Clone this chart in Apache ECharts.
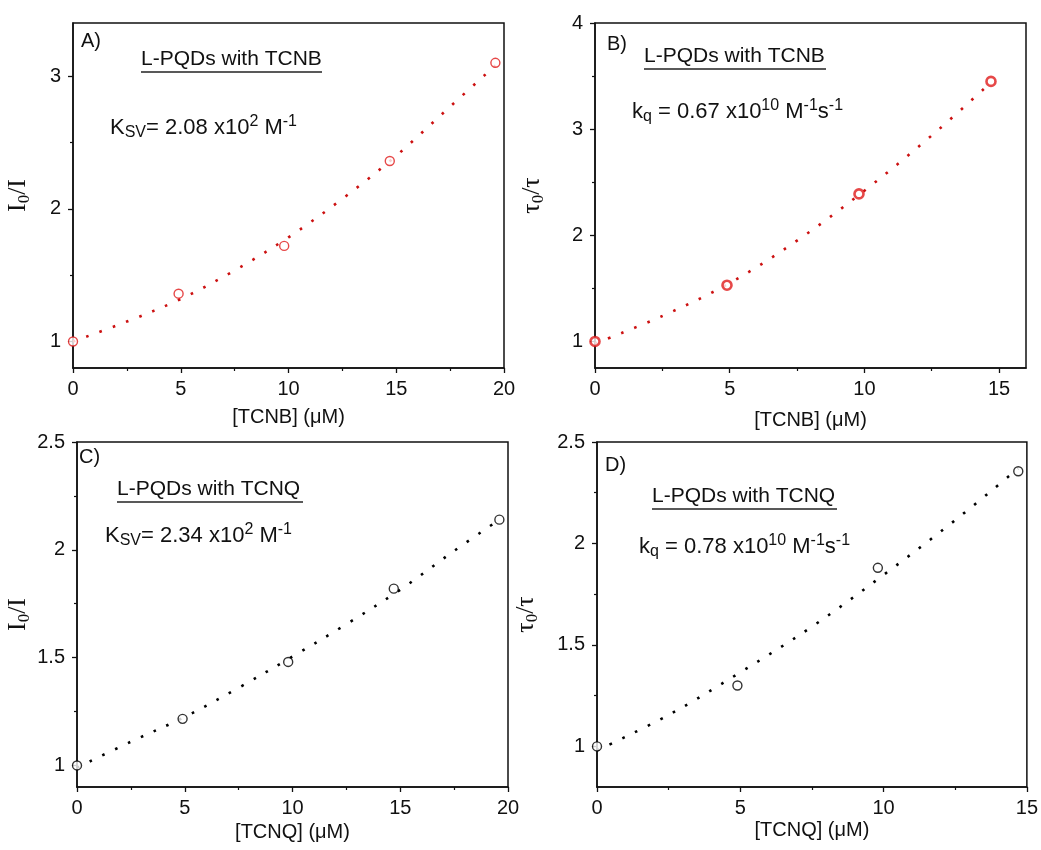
<!DOCTYPE html>
<html>
<head>
<meta charset="utf-8">
<script src="https://cdn.jsdelivr.net/npm/echarts@6/dist/echarts.min.js"></script>
<style>
html,body{margin:0;padding:0;background:#fff;}
#chart{width:1041px;height:850px;}
</style>
</head>
<body>
<div id="chart"></div>
<script>
// ---------- data ----------
// Panel A: I0/I vs [TCNB]
const xA = [0, 4.9, 9.8, 14.7, 19.6];
const yA = [1.0, 1.36, 1.72, 2.36, 3.10];
const fitXA = [0, 2.5, 5, 7.5, 10, 12.5, 15, 17.5, 19.6];
const fitYA = [1.0, 1.15, 1.32, 1.535, 1.785, 2.075, 2.40, 2.77, 3.08];
// Panel B: tau0/tau vs [TCNB]
const xB = [0, 4.9, 9.8, 14.7];
const yB = [1.0, 1.53, 2.39, 3.45];
const fitXB = [0, 2.5, 5, 7.5, 10, 12.5, 14.7];
const fitYB = [0.98, 1.24, 1.55, 1.95, 2.42, 2.94, 3.44];
// Panel C: I0/I vs [TCNQ]
const xC = [0, 4.9, 9.8, 14.7, 19.6];
const yC = [1.0, 1.216, 1.48, 1.82, 2.14];
const fitXC = [0, 2.5, 5, 7.5, 10, 12.5, 15, 17.5, 19.6];
const fitYC = [0.99, 1.11, 1.225, 1.36, 1.505, 1.655, 1.815, 1.995, 2.14];
// Panel D: tau0/tau vs [TCNQ]
const xD = [0, 4.9, 9.8, 14.7];
const yD = [1.0, 1.30, 1.88, 2.356];
const fitXD = [0, 2.5, 5, 7.5, 10, 12.5, 14.7];
const fitYD = [0.98, 1.155, 1.365, 1.59, 1.845, 2.115, 2.37];

// tick values
const xTicksA = [0, 5, 10, 15, 20], xMinorA = [2.5, 7.5, 12.5, 17.5];
const yTicksA = [1, 2, 3], yMinorA = [1.5, 2.5];
const xTicksB = [0, 5, 10, 15], xMinorB = [2.5, 7.5, 12.5];
const yTicksB = [1, 2, 3, 4], yMinorB = [1.5, 2.5, 3.5];
const xTicksC = [0, 5, 10, 15, 20], xMinorC = [2.5, 7.5, 12.5, 17.5];
const yTicksC = [1, 1.5, 2, 2.5], yMinorC = [1.25, 1.75, 2.25];
const xTicksD = [0, 5, 10, 15], xMinorD = [2.5, 7.5, 12.5];
const yTicksD = [1, 1.5, 2, 2.5], yMinorD = [1.25, 1.75, 2.25];

// texts
const panelLabels = ['A)', 'B)', 'C)', 'D)'];
const headings = ['L-PQDs with TCNB', 'L-PQDs with TCNB', 'L-PQDs with TCNQ', 'L-PQDs with TCNQ'];
const xNames = ['[TCNB] (μM)', '[TCNB] (μM)', '[TCNQ] (μM)', '[TCNQ] (μM)'];

// ---------- layout / style ----------
const SANS = '"Liberation Sans", Arial, sans-serif';
const SERIF = '"Liberation Serif", "Times New Roman", serif';
const RED = '#e01a1a', RED_LINE = '#cc1111', BLACK = '#000';

const panels = [
  {grid:{left:73, top:23, width:431, height:345}, xr:[0,20], yr:[0.8,3.4],
   xt:xTicksA, xm:xMinorA, yt:yTicksA, ym:yMinorA, x:xA, y:yA, fx:fitXA, fy:fitYA,
   color:RED, lineColor:RED_LINE, bw:1.4, yname:'I', ynameGap:40, xnameGap:39},
  {grid:{left:595, top:23, width:431, height:345}, xr:[0,16], yr:[0.75,4],
   xt:xTicksB, xm:xMinorB, yt:yTicksB, ym:yMinorB, x:xB, y:yB, fx:fitXB, fy:fitYB,
   color:RED, lineColor:RED_LINE, bw:2.6, yname:'tau', ynameGap:48, xnameGap:42},
  {grid:{left:77, top:442, width:431, height:345}, xr:[0,20], yr:[0.9,2.5],
   xt:xTicksC, xm:xMinorC, yt:yTicksC, ym:yMinorC, x:xC, y:yC, fx:fitXC, fy:fitYC,
   color:BLACK, lineColor:BLACK, bw:1.4, yname:'I', ynameGap:42, xnameGap:35},
  {grid:{left:597, top:442, width:430, height:345}, xr:[0,15], yr:[0.8,2.5],
   xt:xTicksD, xm:xMinorD, yt:yTicksD, ym:yMinorD, x:xD, y:yD, fx:fitXD, fy:fitYD,
   color:BLACK, lineColor:BLACK, bw:1.4, yname:'tau', ynameGap:56, xnameGap:33}
];

const grids = [], xAxes = [], yAxes = [], series = [], titles = [];

const yNameRich = {
  n:{fontFamily:SERIF, fontSize:26, color:'#111', lineHeight:30, fontWeight:'normal'},
  s:{fontFamily:SERIF, fontSize:17, color:'#111', lineHeight:17, verticalAlign:'bottom', fontWeight:'normal'}
};

panels.forEach((p, i) => {
  grids.push(Object.assign({show:true, borderColor:'#111', borderWidth:1.5, containLabel:false}, p.grid));
  const axisLine = {show:true, onZero:false, lineStyle:{color:'#111', width:1.5}};
  xAxes.push({
    type:'value', gridIndex:i, position:'bottom', min:p.xr[0], max:p.xr[1],
    axisLine, splitLine:{show:false},
    axisTick:{show:true, customValues:p.xt, length:5, lineStyle:{color:'#111', width:1.3}},
    axisLabel:{customValues:p.xt, margin:11, fontSize:20, fontFamily:SANS, color:'#111'},
    name:xNames[i], nameLocation:'middle', nameGap:p.xnameGap,
    nameTextStyle:{fontSize:20, fontFamily:SANS, color:'#111'}
  });
  xAxes.push({
    type:'value', gridIndex:i, position:'bottom', offset:0, min:p.xr[0], max:p.xr[1],
    axisLine:{show:false}, splitLine:{show:false},
    axisTick:{show:true, customValues:p.xm, length:3, lineStyle:{color:'#111', width:1.2}},
    axisLabel:{show:false}
  });
  const yName = p.yname === 'I' ? '{n|I}{s|0}{n|/I}' : '{n|τ}{s|0}{n|/τ}';
  yAxes.push({
    type:'value', gridIndex:i, position:'left', min:p.yr[0], max:p.yr[1],
    axisLine, splitLine:{show:false},
    axisTick:{show:true, customValues:p.yt, length:5, lineStyle:{color:'#111', width:1.3}},
    axisLabel:{customValues:p.yt, margin:12, fontSize:20, fontFamily:SANS, color:'#111'},
    name:yName, nameLocation:'middle', nameGap:p.ynameGap, nameRotate:90,
    nameTextStyle:{rich:yNameRich}
  });
  yAxes.push({
    type:'value', gridIndex:i, position:'left', offset:0, min:p.yr[0], max:p.yr[1],
    axisLine:{show:false}, splitLine:{show:false},
    axisTick:{show:true, customValues:p.ym, length:3, lineStyle:{color:'#111', width:1.2}},
    axisLabel:{show:false}
  });
  series.push({
    type:'line', xAxisIndex:2*i, yAxisIndex:2*i, smooth:0.35, showSymbol:false, symbol:'none',
    data:p.fx.map((v, k) => [v, p.fy[k]]),
    lineStyle:{color:p.lineColor, width:2.6, type:[2.6, 11.5], cap:'butt'}, z:2, silent:true
  });
  series.push({
    type:'scatter', xAxisIndex:2*i, yAxisIndex:2*i, symbol:'circle', symbolSize:9,
    data:p.x.map((v, k) => [v, p.y[k]]),
    itemStyle:{color:'#fff', borderColor:p.color, borderWidth:p.bw}, z:3, silent:true
  });
});

const txt = {fontSize:20, fontFamily:SANS, color:'#111', fontWeight:'normal'};
const annot = [
  {lab:[81,31], head:[141,48,181], eq:[110,114], kind:'ksv', val:'2.08'},
  {lab:[607,34], head:[644,45,182], eq:[632,98], kind:'kq', val:'0.67'},
  {lab:[79,447], head:[117,478,186], eq:[105,522], kind:'ksv', val:'2.34'},
  {lab:[605,455], head:[652,485,185], eq:[639,533], kind:'kq', val:'0.78'}
];
const eqRich = {
  a:{fontSize:22, fontFamily:SANS, color:'#111', lineHeight:27, fontWeight:'normal'},
  sub:{fontSize:16, fontFamily:SANS, color:'#111', lineHeight:17, verticalAlign:'bottom', fontWeight:'normal'},
  sup:{fontSize:16, fontFamily:SANS, color:'#111', lineHeight:17, verticalAlign:'top', fontWeight:'normal'}
};
annot.forEach((a, i) => {
  titles.push({text:panelLabels[i], left:a.lab[0], top:a.lab[1], padding:0, textStyle:txt});
  titles.push({
    text:'{t|' + headings[i] + '}\n{u|}', left:a.head[0], top:a.head[1], padding:0,
    textStyle:{fontWeight:'normal', rich:{
      t:{fontSize:21, fontFamily:SANS, color:'#111', lineHeight:23, fontWeight:'normal'},
      u:{height:1.5, width:a.head[2], backgroundColor:'#222', lineHeight:2}
    }}
  });
  const eq = a.kind === 'ksv'
    ? '{a|K}{sub|SV}{a|= ' + a.val + ' x10}{sup|2}{a| M}{sup|-1}'
    : '{a|k}{sub|q}{a| = ' + a.val + ' x10}{sup|10}{a| M}{sup|-1}{a|s}{sup|-1}';
  titles.push({text:eq, left:a.eq[0], top:a.eq[1], padding:0, textStyle:{fontWeight:'normal', rich:eqRich}});
});

const chart = echarts.init(document.getElementById('chart'), null, {renderer:'canvas'});
chart.setOption({
  backgroundColor:'#fff',
  animation:false,
  title:titles,
  grid:grids,
  xAxis:xAxes,
  yAxis:yAxes,
  series:series
});
</script>
</body>
</html>
